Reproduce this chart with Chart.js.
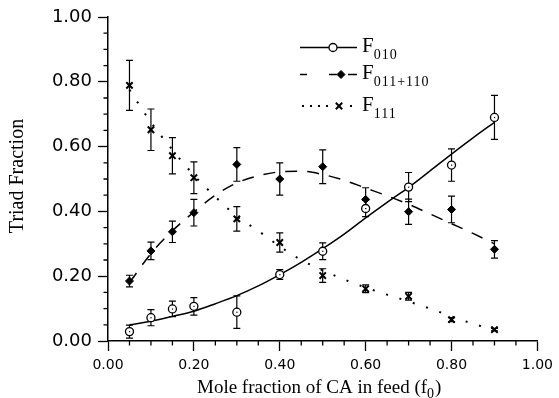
<!DOCTYPE html>
<html>
<head>
<meta charset="utf-8">
<script src="https://cdn.jsdelivr.net/npm/chart.js@4.4.1/dist/chart.umd.min.js"></script>
<style>
  html, body { margin: 0; padding: 0; background: #fff; }
  #wrap { width: 559px; height: 398px; }
</style>
</head>
<body>
<div id="wrap"><canvas id="grafico" width="559" height="398"></canvas></div>
<script>
// pontos medidos (fração molar de CA na alimentação)
const fFeed = [0.05, 0.10, 0.15, 0.20, 0.30, 0.40, 0.50, 0.60, 0.70, 0.80, 0.90];
const f010  = [0.029, 0.072, 0.099, 0.107, 0.089, 0.205, 0.277, 0.409, 0.475, 0.543, 0.690];
const e010  = [0.020, 0.025, 0.024, 0.027, 0.050, 0.015, 0.026, 0.025, 0.045, 0.050, 0.068];
const f011  = [0.185, 0.278, 0.337, 0.396, 0.545, 0.500, 0.538, 0.437, 0.399, 0.406, 0.283];
const e011  = [0.018, 0.027, 0.033, 0.041, 0.052, 0.050, 0.052, 0.036, 0.039, 0.041, 0.027];
const f111  = [0.789, 0.652, 0.572, 0.504, 0.377, 0.304, 0.202, 0.161, 0.138, 0.066, 0.035];
const e111  = [0.077, 0.064, 0.056, 0.049, 0.038, 0.030, 0.021, 0.012, 0.012, 0.006, 0.004];

// curvas ajustadas
const fitX   = [0.05, 0.10, 0.15, 0.20, 0.25, 0.30, 0.35, 0.40, 0.45, 0.50, 0.55, 0.60, 0.65, 0.70, 0.75, 0.80, 0.85, 0.90];
const fit010 = [0.050, 0.061, 0.076, 0.092, 0.115, 0.140, 0.170, 0.205, 0.243, 0.285, 0.330, 0.380, 0.428, 0.474, 0.525, 0.577, 0.627, 0.675];
const fit011 = [0.180, 0.270, 0.340, 0.398, 0.450, 0.488, 0.510, 0.522, 0.524, 0.514, 0.496, 0.472, 0.448, 0.422, 0.392, 0.362, 0.332, 0.300];
const fit111 = [0.775, 0.675, 0.590, 0.512, 0.445, 0.385, 0.340, 0.292, 0.250, 0.218, 0.190, 0.165, 0.143, 0.122, 0.100, 0.076, 0.053, 0.035];

const xTicks = [0, 0.2, 0.4, 0.6, 0.8, 1.0];
const yTicks = [0, 0.2, 0.4, 0.6, 0.8, 1.0];
const minorStep = 0.05;

const xTitle = ['Mole fraction of CA in feed (f', '0', ')'];
const yTitle = 'Triad Fraction';
const legenda = [['F', '010'], ['F', '011+110'], ['F', '111']];

const SERIF = '"Liberation Serif", "Times New Roman", serif';
const SANS = '"DejaVu Sans", sans-serif';

const pts = (xs, ys) => xs.map((x, i) => ({ x, y: ys[i] }));
const barras = [[f010, e010], [f011, e011], [f111, e111]];

const estiloPontos = [
    { pointStyle: 'circle', radius: 4, borderWidth: 1.3, fill: '#fff' },
    { pointStyle: 'rectRot', radius: 4, borderWidth: 1, fill: '#000' },
    { pointStyle: 'crossRot', radius: 4.5, borderWidth: 2, fill: '#000' }
];

const extras = {
    id: 'extras',
    beforeDatasetsDraw(chart) {
        const { ctx, scales: { x, y } } = chart;
        ctx.save();
        ctx.strokeStyle = '#000'; ctx.lineWidth = 1.2;
        barras.forEach(([vals, errs]) => vals.forEach((v, i) => {
            const px = x.getPixelForValue(fFeed[i]);
            const t = y.getPixelForValue(v + errs[i]), b = y.getPixelForValue(v - errs[i]);
            ctx.beginPath();
            ctx.moveTo(px, t); ctx.lineTo(px, b);
            ctx.moveTo(px - 3.5, t); ctx.lineTo(px + 3.5, t);
            ctx.moveTo(px - 3.5, b); ctx.lineTo(px + 3.5, b);
            ctx.stroke();
        }));
        ctx.restore();
    },
    afterDatasetsDraw(chart) {
        // ponto central dos círculos
        const { ctx, scales: { x, y } } = chart;
        ctx.save(); ctx.fillStyle = '#000';
        f010.forEach((v, i) => ctx.fillRect(x.getPixelForValue(fFeed[i]) - 0.5, y.getPixelForValue(v) - 0.5, 1.2, 1.2));
        ctx.restore();
    },
    afterDraw(chart) {
        const { ctx, chartArea: a, scales: { x, y } } = chart;
        ctx.save();
        ctx.strokeStyle = '#000'; ctx.fillStyle = '#000'; ctx.lineWidth = 1.3;

        // marcas menores
        ctx.beginPath();
        for (let k = 1; k < 20; k++) {
            if (k % 4 === 0) continue;
            const px = x.getPixelForValue(k * minorStep), py = y.getPixelForValue(k * minorStep);
            ctx.moveTo(px, a.bottom); ctx.lineTo(px, a.bottom + 4.5);
            ctx.moveTo(a.left - 4.5, py); ctx.lineTo(a.left, py);
        }
        ctx.stroke();

        // títulos dos eixos
        ctx.font = `20px ${SERIF}`;
        ctx.textAlign = 'center'; ctx.textBaseline = 'alphabetic';
        ctx.save();
        ctx.translate(23, 176); ctx.rotate(-Math.PI / 2);
        ctx.fillText(yTitle, 0, 0);
        ctx.restore();

        ctx.textAlign = 'left';
        ctx.font = `19px ${SERIF}`;
        let tx = 197;
        ctx.fillText(xTitle[0], tx, 393); tx += ctx.measureText(xTitle[0]).width;
        ctx.font = `14px ${SERIF}`;
        ctx.fillText(xTitle[1], tx, 398); tx += ctx.measureText(xTitle[1]).width + 1;
        ctx.font = `19px ${SERIF}`;
        ctx.fillText(xTitle[2], tx, 393);

        // legenda
        const linhasY = [47.5, 74.5, 106];
        const marcaX = [333, 341, 339];
        ctx.lineWidth = 1.5;
        // linha contínua
        ctx.beginPath(); ctx.moveTo(300, linhasY[0]); ctx.lineTo(357, linhasY[0]); ctx.stroke();
        // tracejada
        ctx.beginPath();
        [[300, 307], [329, 337], [348, 357]].forEach(([s, e]) => { ctx.moveTo(s, linhasY[1]); ctx.lineTo(e, linhasY[1]); });
        ctx.stroke();
        // pontilhada
        [303, 311, 319, 327, 351].forEach(d => ctx.fillRect(d - 1, linhasY[2] - 1, 2, 2));

        estiloPontos.forEach((st, i) => {
            ctx.fillStyle = st.fill; ctx.strokeStyle = '#000'; ctx.lineWidth = st.borderWidth;
            Chart.helpers.drawPoint(ctx, { pointStyle: st.pointStyle, radius: st.radius, rotation: 0, borderWidth: st.borderWidth }, marcaX[i], linhasY[i]);
        });

        ctx.fillStyle = '#000';
        legenda.forEach(([f, sub], i) => {
            const base = linhasY[i] + 4.5;
            ctx.font = `21px ${SERIF}`;
            ctx.letterSpacing = '0px';
            ctx.fillText(f, 362, base);
            const w = ctx.measureText(f).width;
            ctx.font = `14px ${SERIF}`;
            ctx.letterSpacing = '1px';
            ctx.fillText(sub, 362 + w, base + 7);
        });
        ctx.letterSpacing = '0px';
        ctx.restore();
    }
};

const eixo = (tks, size, extra) => Object.assign({
    type: 'linear', min: 0, max: 1,
    afterBuildTicks: s => { s.ticks = tks.map(v => ({ value: v })); },
    grid: { drawOnChartArea: false, tickLength: 10, tickWidth: 1.3, tickColor: '#000' },
    border: { color: '#000', width: 1.5 },
    ticks: { color: '#000', font: { family: SANS, size }, padding: 6, maxRotation: 0, callback: v => v.toFixed(2) }
}, extra);

new Chart(document.getElementById('grafico'), {
    type: 'scatter',
    data: {
        datasets: [
            ...[f010, f011, f111].map((vals, i) => ({
                data: pts(fFeed, vals), pointStyle: estiloPontos[i].pointStyle, pointRadius: estiloPontos[i].radius,
                pointBackgroundColor: estiloPontos[i].fill, pointBorderColor: '#000', pointBorderWidth: estiloPontos[i].borderWidth
            })),
            { data: pts(fitX, fit010), showLine: true, borderColor: '#000', borderWidth: 1.5, pointRadius: 0, cubicInterpolationMode: 'monotone' },
            { data: pts(fitX, fit011), showLine: true, borderColor: '#000', borderWidth: 1.5, borderDash: [12, 10], pointRadius: 0, cubicInterpolationMode: 'monotone' },
            { data: pts(fitX, fit111), showLine: true, borderColor: '#000', borderWidth: 2, borderDash: [2, 12], pointRadius: 0, cubicInterpolationMode: 'monotone' }
        ]
    },
    options: {
        responsive: false, animation: false, devicePixelRatio: 1,
        layout: { padding: { top: 17, right: 20, left: 0, bottom: 0 } },
        plugins: { legend: { display: false }, tooltip: { enabled: false } },
        scales: {
            x: eixo(xTicks, 14, { afterFit: s => { s.height = 57; } }),
            y: eixo(yTicks, 18, { afterFit: s => { s.width = 108; } })
        }
    },
    plugins: [extras]
});
</script>
</body>
</html>
